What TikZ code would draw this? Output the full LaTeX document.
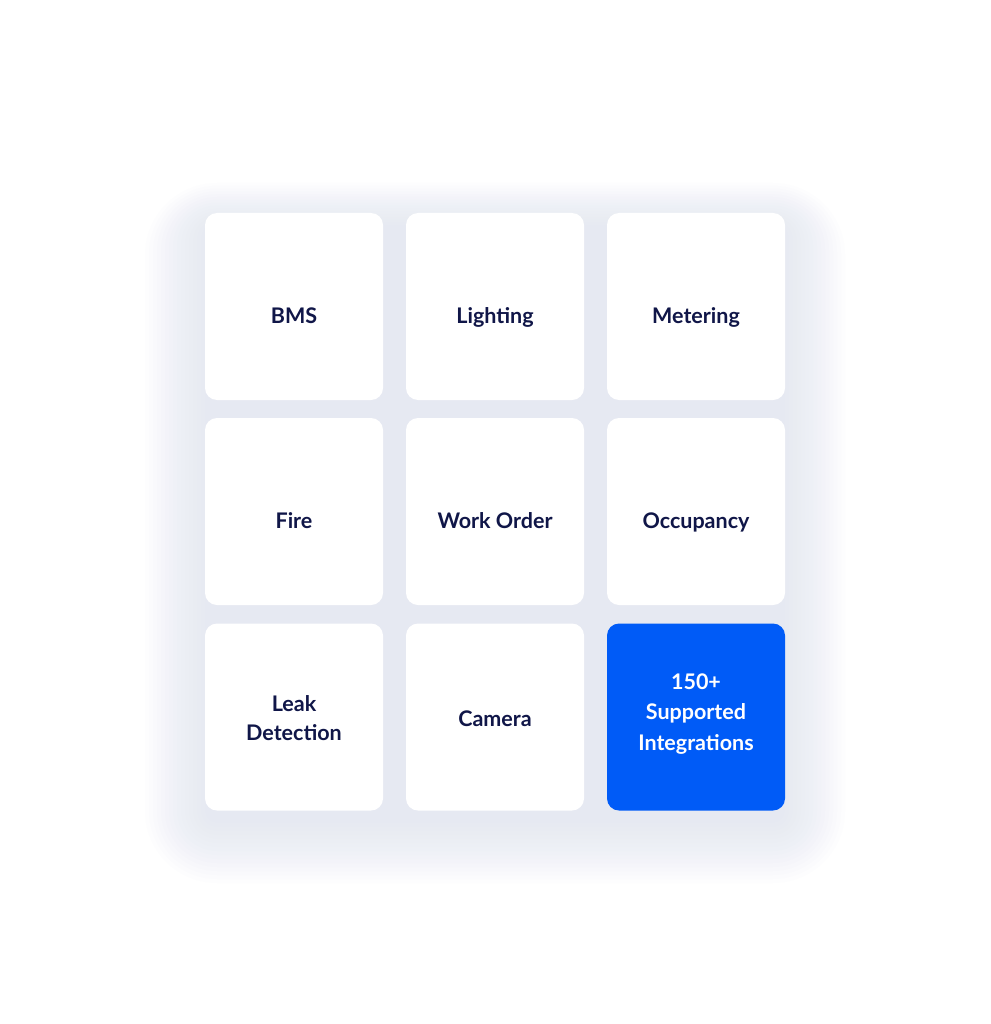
\documentclass[tikz,border=0pt]{standalone}
\usepackage{fontspec}
\setmainfont{Lato}
\usetikzlibrary{positioning}
\definecolor{tilenavy}{RGB}{16,22,72}
\definecolor{tileblue}{RGB}{0,91,247}
\definecolor{shadowgrey}{RGB}{215,221,242}
\begin{document}
\begin{tikzpicture}
[x=1pt,y=-1pt,
  tiledecorate/.style={shape=rectangle,rounded corners=12pt,fill=white,
    minimum width=178pt,minimum height=187pt,inner sep=0pt},
  bluedecorate/.style={tiledecorate,fill=tileblue},
  textdecorate/.style={align=center,text=tilenavy,inner sep=0pt,
    font=\fontsize{21.5}{29}\selectfont\bfseries},
  shadowdecorate/.style={fill=shadowgrey,opacity=0.045}]
\useasboundingbox[fill=white] (0,0) rectangle (990,1024);
%% soft shadow under the block of tiles
\foreach \s in {0,4,...,60} {
  \fill[shadowdecorate,rounded corners={12+\s}]
    ({205-\s},{213-0.7*\s+12}) rectangle ({785+\s},{811+\s+12});
}
%% tiles and their labels, set on their baselines
\foreach \tilename/\x/\y/\ty/\caption in {
  bms/294/306.5/323/BMS, lighting/495/306.5/323/Lighting,
  metering/696/306.5/323/Metering, fire/294/511.5/528/Fire,
  workorder/495/511.5/528/Work Order, occupancy/696/511.5/528/Occupancy,
  camera/495/717/726/Camera} {
  \node (\tilename) at (\x,\y) [tiledecorate] {};
  \node (\tilename-text) at (\x,\ty) [textdecorate,anchor=base] {\caption};
}
\node (leak) at (294,717) [tiledecorate] {};
\node (leak-text) at (294,718) [textdecorate] {Leak\\Detection};
\node (integrations) at (696,717) [bluedecorate] {};
\node (integrations-text) at (696,714) [textdecorate,text=white,
  font=\fontsize{21.5}{30.5}\selectfont\bfseries]
  {150+\\Supported\\Integrations};
\end{tikzpicture}
\end{document}
